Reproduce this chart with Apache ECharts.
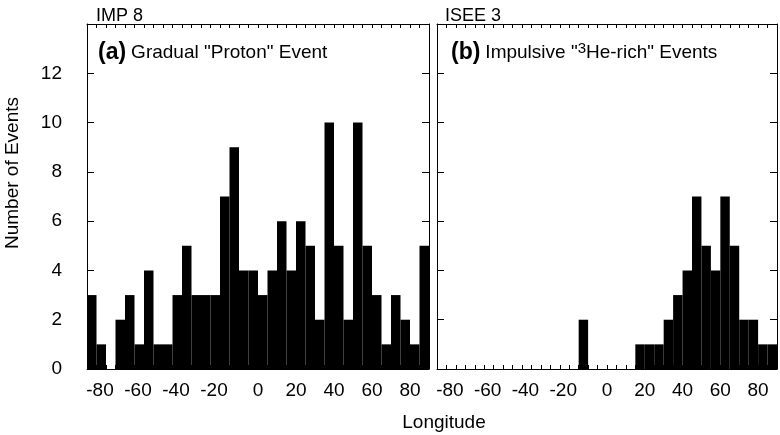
<!DOCTYPE html>
<html><head><meta charset="utf-8">
<script src="https://cdn.jsdelivr.net/npm/echarts@6/dist/echarts.min.js"></script>
<style>html,body{margin:0;padding:0;background:#fff}#c{width:780px;height:435px}</style>
</head><body><div id="c"></div>
<script>
// Longitude bins (5 deg wide), given by their centres
const binCenters = [-87.5,-82.5,-77.5,-72.5,-67.5,-62.5,-57.5,-52.5,-47.5,-42.5,-37.5,-32.5,-27.5,-22.5,-17.5,-12.5,-7.5,-2.5,
                    2.5,7.5,12.5,17.5,22.5,27.5,32.5,37.5,42.5,47.5,52.5,57.5,62.5,67.5,72.5,77.5,82.5,87.5];
const binWidth = 5;
// (a) IMP 8 gradual "proton" events
const impCounts  = [3,1,0,2,3,1,4,1,1,3,5,3,3,3,7,9,4,4,3,4,6,4,6,5,2,10,5,2,10,5,3,1,3,2,1,5];
// (b) ISEE 3 impulsive 3He-rich events
const iseeCounts = [0,0,0,0,0,0,0,0,0,0,0,0,0,0,0,2,0,0,0,0,0,1,1,1,2,3,4,7,5,4,7,5,2,2,1,1];
const xTickLabels = [-80,-60,-40,-20,0,20,40,60,80];
const yTickLabels = [0,2,4,6,8,10,12];

const FONT = "'Liberation Sans', Arial, Helvetica, sans-serif";
const chart = echarts.init(document.getElementById('c'), null, {renderer: 'canvas'});

function renderHist(params, api) {
  const c = api.value(0), v = api.value(1);
  const p0 = api.coord([c - binWidth / 2, v]);
  const p1 = api.coord([c + binWidth / 2, 0]);
  return {type: 'rect', shape: {x: p0[0], y: p0[1], width: p1[0] - p0[0], height: p1[1] - p0[1]},
          style: {fill: '#000'}};
}

function xAxes(gridIndex) {
  return [
    { // bottom with labels
      type: 'value', gridIndex, position: 'bottom', min: -90, max: 90, interval: 5,
      axisLine: {show: true, onZero: false, lineStyle: {color: '#000', width: 1}},
      axisTick: {show: true, inside: true, length: 4, lineStyle: {color: '#000'}},
      axisLabel: {show: true, customValues: xTickLabels, margin: 12, color: '#000', fontSize: 19, fontFamily: FONT,
        formatter: v => v < 0 ? '{n|' + v + '}' : '{p|' + v + '}',
        rich: {n: {fontSize: 19, fontFamily: FONT, color: '#000', padding: [0, 12, 0, 0]},
               p: {fontSize: 19, fontFamily: FONT, color: '#000'}}},
      splitLine: {show: false}
    },
    { // top mirror
      type: 'value', gridIndex, position: 'top', min: -90, max: 90, interval: 5,
      axisLine: {show: true, onZero: false, lineStyle: {color: '#000', width: 1}},
      axisTick: {show: true, inside: true, length: 4, lineStyle: {color: '#000'}},
      axisLabel: {show: false}, splitLine: {show: false}
    }
  ];
}
function yAxes(gridIndex, labels) {
  return [
    {
      type: 'value', gridIndex, position: 'left', min: 0, max: 14, interval: 2,
      axisLine: {show: true, onZero: false, lineStyle: {color: '#000', width: 1}},
      axisTick: {show: true, inside: true, length: 7, lineStyle: {color: '#000'}},
      axisLabel: {show: labels, margin: 25, color: '#000', fontSize: 19, fontFamily: FONT,
        formatter: v => yTickLabels.indexOf(v) >= 0 ? String(v) : ''},
      splitLine: {show: false}
    },
    {
      type: 'value', gridIndex, position: 'right', min: 0, max: 14, interval: 2,
      axisLine: {show: true, onZero: false, lineStyle: {color: '#000', width: 1}},
      axisTick: {show: true, inside: true, length: 7, lineStyle: {color: '#000'}},
      axisLabel: {show: false}, splitLine: {show: false}
    }
  ];
}

const option = {
  animation: false,
  backgroundColor: '#fff',
  grid: [
    {left: 87, right: 351, top: 24, bottom: 66},
    {left: 437, right: 3, top: 24, bottom: 66}
  ],
  xAxis: [...xAxes(0), ...xAxes(1)],
  yAxis: [...yAxes(0, true), ...yAxes(1, false)],
  title: [
    {text: 'IMP 8', left: 91, top: 2, textStyle: {fontSize: 18, fontWeight: 'normal', color: '#000', fontFamily: FONT}},
    {text: 'ISEE 3', left: 440, top: 2, textStyle: {fontSize: 18, fontWeight: 'normal', color: '#000', fontFamily: FONT}},
    {text: '{b|(a)} {t|Gradual "Proton" Event}', left: 93, top: 36,
     textStyle: {fontWeight: 'normal', rich: {b: {fontSize: 23, fontWeight: 'bold', color: '#000', fontFamily: FONT},
                        t: {fontSize: 19, fontWeight: 'normal', color: '#000', fontFamily: FONT}}}},
    {text: '{b|(b)} {t|Impulsive "}{s|3}{t|He-rich" Events}', left: 446, top: 36,
     textStyle: {fontWeight: 'normal', rich: {b: {fontSize: 23, fontWeight: 'bold', color: '#000', fontFamily: FONT},
                        t: {fontSize: 19, fontWeight: 'normal', color: '#000', fontFamily: FONT},
                        s: {fontSize: 15, fontWeight: 'normal', color: '#000', fontFamily: FONT, padding: [0, 0, 8, 0]}}}}
  ],
  graphic: [
    {type: 'text', x: 13, y: 173, rotation: Math.PI / 2,
     style: {text: 'Number of Events', fill: '#000', font: '19px ' + FONT, textAlign: 'center', textVerticalAlign: 'middle'}},
    {type: 'text', x: 444, y: 423,
     style: {text: 'Longitude', fill: '#000', font: '19px ' + FONT, textAlign: 'center', textVerticalAlign: 'middle'}}
  ],
  series: [
    {type: 'custom', xAxisIndex: 0, yAxisIndex: 0, renderItem: renderHist,
     data: binCenters.map((c, i) => [c, impCounts[i]]), encode: {x: 0, y: 1}},
    {type: 'custom', xAxisIndex: 2, yAxisIndex: 2, renderItem: renderHist,
     data: binCenters.map((c, i) => [c, iseeCounts[i]]), encode: {x: 0, y: 1}}
  ]
};
chart.setOption(option);
</script></body></html>
